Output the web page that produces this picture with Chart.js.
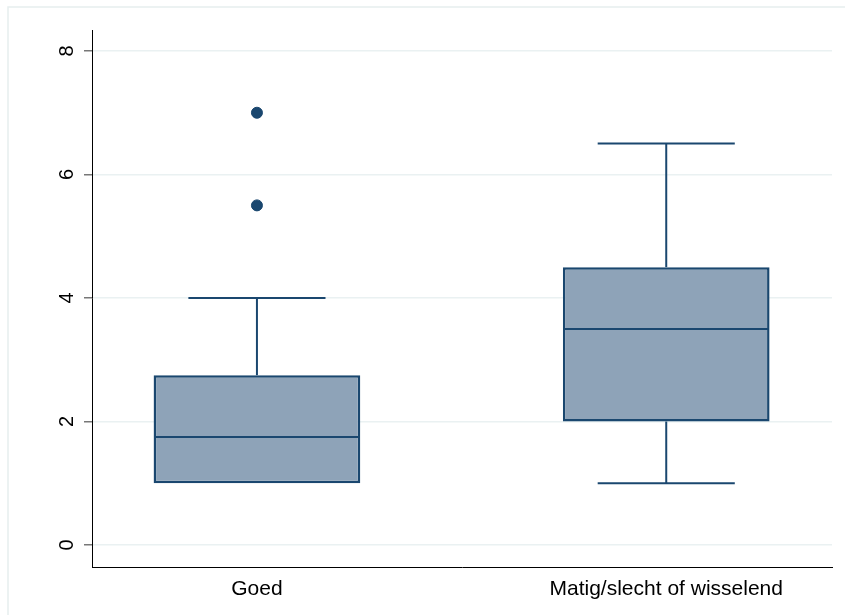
<!DOCTYPE html>
<html>
<head>
<meta charset="utf-8">
<script src="https://cdn.jsdelivr.net/npm/chart.js@4/dist/chart.umd.min.js"></script>
<style>
  html, body { margin: 0; padding: 0; background: #fff; }
  #wrap { width: 845px; height: 615px; }
</style>
</head>
<body>
<div id="wrap"><canvas id="myChart" width="845" height="615"></canvas></div>
<script>
// box plot values
var categories = ['Goed', 'Matig/slecht of wisselend'];
var positions = [1, 2];
var lowerWhisker = [1, 1];
var q1 = [1, 2];
var median = [1.75, 3.5];
var q3 = [2.75, 4.5];
var upperWhisker = [4, 6.5];
var outliers = [[5.5, 7], []];
var yTicks = [0, 2, 4, 6, 8];

var navy = '#1a476f';
var boxFill = '#8ea3b8';
var halfBox = 0.25;
var halfCap = 0.1675;

function seg(x1, y1, x2, y2, w) {
    return {
        type: 'line',
        data: [{x: x1, y: y1}, {x: x2, y: y2}],
        borderColor: navy,
        borderWidth: w || 2,
        pointRadius: 0,
        fill: false,
        order: 1
    };
}

var datasets = [];
datasets.push({
    type: 'bar',
    data: positions.map(function(p, i) { return {x: p, y: [q1[i], q3[i]]}; }),
    backgroundColor: boxFill,
    borderColor: navy,
    borderWidth: 2.5,
    borderSkipped: false,
    categoryPercentage: 1,
    barPercentage: 0.505,
    order: 3
});
positions.forEach(function(p, i) {
    datasets.push(seg(p - halfBox, median[i], p + halfBox, median[i]));
    if (lowerWhisker[i] < q1[i]) {
        datasets.push(seg(p, lowerWhisker[i], p, q1[i]));
        datasets.push(seg(p - halfCap, lowerWhisker[i], p + halfCap, lowerWhisker[i]));
    }
    datasets.push(seg(p, q3[i], p, upperWhisker[i]));
    datasets.push(seg(p - halfCap, upperWhisker[i], p + halfCap, upperWhisker[i]));
});
var outPts = [];
positions.forEach(function(p, i) {
    outliers[i].forEach(function(v) { outPts.push({x: p, y: v}); });
});
datasets.push({
    type: 'scatter',
    data: outPts,
    backgroundColor: navy,
    borderColor: navy,
    pointRadius: 5.5,
    order: 0
});

var framePlugin = {
    id: 'frame',
    beforeDraw: function(chart) {
        var c = chart.ctx;
        c.save();
        c.fillStyle = '#fff';
        c.fillRect(0, 0, chart.width, chart.height);
        c.strokeStyle = '#e6eeee';
        c.lineWidth = 1.5;
        c.strokeRect(8, 7, chart.width + 20, chart.height + 20);
        c.restore();
    }
};

var ctx = document.getElementById('myChart').getContext('2d');
var myChart = new Chart(ctx, {
    data: { datasets: datasets },
    plugins: [framePlugin],
    options: {
        responsive: false,
        animation: false,
        layout: { padding: { top: 30, right: 13, left: 0, bottom: 0 } },
        plugins: { legend: { display: false }, tooltip: { enabled: false } },
        scales: {
            x: {
                type: 'linear',
                offset: false,
                min: 0.597,
                max: 2.405,
                afterBuildTicks: function(scale) {
                    scale.ticks = positions.map(function(p) { return {value: p}; });
                },
                afterFit: function(scale) { scale.height = 48; },
                grid: { display: false, offset: false },
                border: { display: true, color: '#000', width: 1 },
                ticks: {
                    color: '#000',
                    padding: 2,
                    font: { family: 'Arial, "Liberation Sans", sans-serif', size: 21 },
                    maxRotation: 0,
                    autoSkip: false,
                    callback: function(v) { return categories[positions.indexOf(v)]; }
                }
            },
            y: {
                type: 'linear',
                min: -0.356,
                max: 8.34,
                afterBuildTicks: function(scale) {
                    scale.ticks = yTicks.map(function(v) { return {value: v}; });
                },
                afterFit: function(scale) { scale.width = 92; },
                grid: {
                    color: '#eaf1f2',
                    lineWidth: 1.5,
                    tickColor: '#777',
                    tickLength: 8
                },
                border: { display: true, color: '#000', width: 1 },
                ticks: {
                    color: '#000',
                    minRotation: 90,
                    maxRotation: 90,
                    crossAlign: 'center',
                    padding: 11,
                    font: { family: 'Arial, "Liberation Sans", sans-serif', size: 20 }
                }
            }
        }
    }
});
</script>
</body>
</html>
